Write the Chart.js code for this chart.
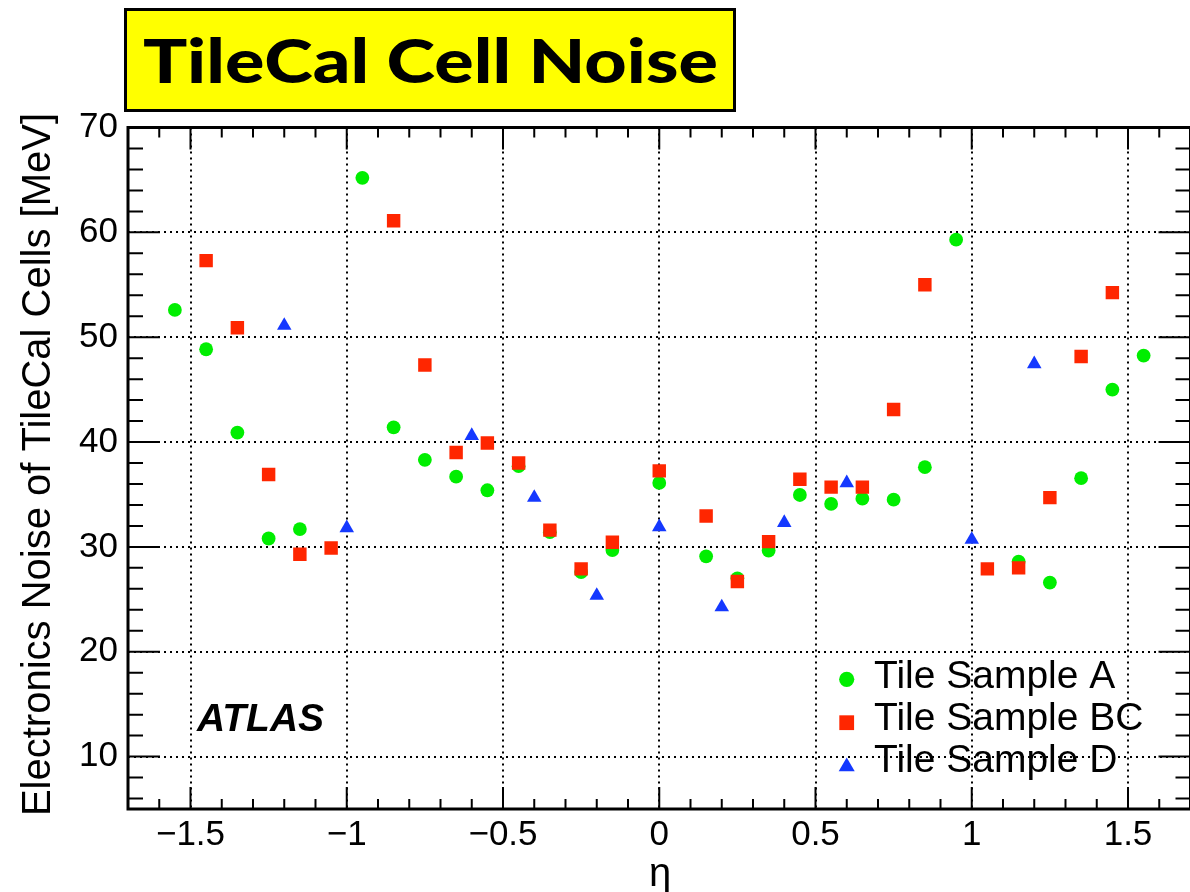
<!DOCTYPE html>
<html>
<head>
<meta charset="utf-8">
<title>TileCal Cell Noise</title>
<script src="https://cdn.jsdelivr.net/npm/chart.js@4.4.1/dist/chart.umd.min.js"></script>
<style>
  html, body { margin: 0; padding: 0; background: #fff; overflow: hidden; }
  #wrap { width: 1190px; height: 892px; overflow: hidden; }
  #noise { display: block; }
</style>
</head>
<body>
<div id="wrap"><canvas id="noise" width="1200" height="892"></canvas></div>
<script>
// cell noise per sampling layer: eta of the cell centre and noise in MeV
const etaA = [-1.55, -1.45, -1.35, -1.25, -1.15, -0.95, -0.85, -0.75, -0.65, -0.55, -0.45, -0.35, -0.25, -0.15, 0,
              0.15, 0.25, 0.35, 0.45, 0.55, 0.65, 0.75, 0.85, 0.95, 1.15, 1.25, 1.35, 1.45, 1.55];
const noiseA = [52.6, 48.85, 40.9, 30.8, 31.7, 65.2, 41.4, 38.3, 36.7, 35.4, 37.7, 31.4, 27.6, 29.7, 36.1,
                29.1, 27.0, 29.65, 34.95, 34.1, 34.6, 34.5, 37.6, 59.3, 28.6, 26.6, 36.55, 45.0, 48.25];

const etaBC = [-1.45, -1.35, -1.25, -1.15, -1.05, -0.85, -0.75, -0.65, -0.55, -0.45, -0.35, -0.25, -0.15, 0,
               0.15, 0.25, 0.35, 0.45, 0.55, 0.65, 0.75, 0.85, 1.05, 1.15, 1.25, 1.35, 1.45];
const noiseBC = [57.3, 50.9, 36.9, 29.3, 29.9, 61.1, 47.35, 39.0, 39.9, 38.0, 31.6, 27.9, 30.45, 37.25,
                 32.95, 26.7, 30.5, 36.45, 35.7, 35.7, 43.1, 55.0, 27.9, 28.0, 34.7, 48.15, 54.25];

const etaD = [-1.2, -1.0, -0.6, -0.4, -0.2, 0, 0.2, 0.4, 0.6, 1.0, 1.2];
const noiseD = [51.1, 31.8, 40.6, 34.7, 25.35, 31.9, 24.25, 32.3, 36.1, 30.7, 47.45];

const etaTicks = [-1.5, -1, -0.5, 0, 0.5, 1, 1.5];
const noiseTicks = [10, 20, 30, 40, 50, 60, 70];

const SANS = "'Liberation Sans', Arial, Helvetica, sans-serif";

function points(xs, ys) {
  return xs.map((x, i) => ({ x: x, y: ys[i] }));
}

// proper minus sign on the tick labels
function fmtTick(v) {
  return v < 0 ? '\u2212' + Math.abs(v) : String(v);
}

// walk major + minor (1/5 step) ticks of a scale
function eachTick(scale, fn) {
  const major = scale.ticks.map(t => t.value);
  const step = (major[1] - major[0]) / 5;
  const start = major[0] - Math.floor((major[0] - scale.min) / step + 1e-6) * step;
  for (let i = 0; ; i++) {
    const v = start + i * step;
    if (v > scale.max + 1e-6) break;
    const isMajor = major.some(m => Math.abs(m - v) < step / 10);
    fn(scale.getPixelForValue(v), isMajor);
  }
}

// frame with inward ticks on all four sides
const frameTicks = {
  id: 'frameTicks',
  beforeDatasetsDraw(chart) {
    const { ctx, chartArea: a, scales } = chart;
    ctx.save();
    ctx.strokeStyle = '#000';
    ctx.lineWidth = 2;
    ctx.beginPath();
    eachTick(scales.x, (px, major) => {
      const len = major ? 22 : 10;
      ctx.moveTo(px, a.bottom); ctx.lineTo(px, a.bottom - len);
      ctx.moveTo(px, a.top); ctx.lineTo(px, a.top + len);
    });
    eachTick(scales.y, (py, major) => {
      const len = major ? 32 : 15;
      ctx.moveTo(a.left, py); ctx.lineTo(a.left + len, py);
      ctx.moveTo(a.right, py); ctx.lineTo(a.right - len, py);
    });
    ctx.stroke();
    ctx.lineWidth = 3;
    ctx.strokeRect(a.left, a.top, a.right - a.left, a.bottom - a.top);
    ctx.restore();
  }
};

// header box, axis titles, ATLAS tag and legend
const annotations = {
  id: 'annotations',
  afterDraw(chart) {
    const ctx = chart.ctx;
    ctx.save();

    ctx.fillStyle = '#ffff00';
    ctx.fillRect(125.5, 9.5, 609, 101);
    ctx.lineWidth = 3;
    ctx.strokeStyle = '#000';
    ctx.strokeRect(125.5, 9.5, 609, 101);

    // heavy header, stretched sideways to the box width
    const head = 'TileCal Cell Noise';
    ctx.font = `900 61px Lato, 'Open Sans', sans-serif`;
    const sx = 575 / ctx.measureText(head).width;
    ctx.fillStyle = '#000';
    ctx.textAlign = 'center';
    ctx.textBaseline = 'alphabetic';
    ctx.save();
    ctx.translate(430.5, 83);
    ctx.scale(sx, 1);
    ctx.fillText(head, 0, 0);
    ctx.restore();

    ctx.font = `40px ${SANS}`;
    ctx.fillText('\u03B7', 660, 886);

    ctx.save();
    ctx.translate(49.5, 464.5);
    ctx.rotate(-Math.PI / 2);
    ctx.fillText('Electronics Noise of TileCal Cells [MeV]', 0, 0);
    ctx.restore();

    ctx.textAlign = 'left';
    ctx.font = `italic bold 39px ${SANS}`;
    ctx.fillText('ATLAS', 197, 731);

    const textY = [688.3, 730, 771.7];
    const markY = [679.3, 722.7, 766.7];
    ctx.font = `39px ${SANS}`;
    chart.data.datasets.forEach((ds, i) => {
      ctx.fillStyle = ds.pointBackgroundColor;
      Chart.helpers.drawPoint(ctx, {
        pointStyle: ds.pointStyle, radius: ds.pointRadius * 1.1, rotation: 0, borderWidth: 0
      }, 846.7, markY[i]);
      ctx.fillStyle = '#000';
      ctx.fillText(ds.label, 874, textY[i]);
    });
    ctx.restore();
  }
};

const tickFont = { family: SANS, size: 35 };

new Chart(document.getElementById('noise'), {
  type: 'scatter',
  data: {
    datasets: [
      { label: 'Tile Sample A', data: points(etaA, noiseA), order: 2,
        pointStyle: 'circle', pointRadius: 6.9, pointBackgroundColor: '#00ee00', pointBorderWidth: 0 },
      { label: 'Tile Sample BC', data: points(etaBC, noiseBC), order: 1,
        pointStyle: 'rect', pointRadius: 9.5, pointBackgroundColor: '#ff2600', pointBorderWidth: 0 },
      { label: 'Tile Sample D', data: points(etaD, noiseD), order: 0,
        pointStyle: 'triangle', pointRadius: 8.4, pointBackgroundColor: '#1438ff', pointBorderWidth: 0 }
    ]
  },
  options: {
    responsive: false,
    animation: false,
    devicePixelRatio: 1,
    events: [],
    layout: { padding: { top: 127.5, right: 6.3, left: 0, bottom: 0 } },
    plugins: { legend: { display: false }, tooltip: { enabled: false } },
    scales: {
      x: {
        type: 'linear', position: 'bottom', min: -1.7, max: 1.7,
        afterBuildTicks: s => { s.ticks = etaTicks.map(v => ({ value: v })); },
        afterFit: s => { s.height = 83; },
        grid: { color: '#000', lineWidth: 2, drawTicks: false },
        border: { display: false, dash: [2, 4] },
        ticks: { color: '#000', font: tickFont, padding: 5, maxRotation: 0, autoSkip: false, callback: fmtTick }
      },
      y: {
        type: 'linear', position: 'left', min: 5, max: 70,
        afterBuildTicks: s => { s.ticks = noiseTicks.map(v => ({ value: v })); },
        afterFit: s => { s.width = 128; },
        grid: { color: '#000', lineWidth: 2, drawTicks: false },
        border: { display: false, dash: [2, 4] },
        ticks: { color: '#000', font: tickFont, padding: 10, autoSkip: false, callback: fmtTick }
      }
    }
  },
  plugins: [frameTicks, annotations]
});
</script>
</body>
</html>
